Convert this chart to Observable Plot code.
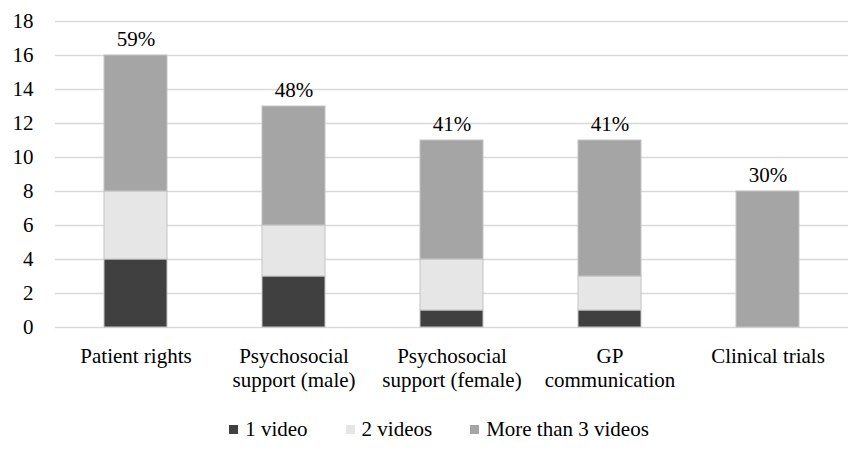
<!DOCTYPE html>
<html>
<head>
<meta charset="utf-8">
<script src="https://cdn.jsdelivr.net/npm/d3@7"></script>
<script src="https://cdn.jsdelivr.net/npm/@observablehq/plot@0.6"></script>
<style>
  html, body { margin: 0; padding: 0; background: #fff; }
  body { width: 848px; height: 455px; overflow: hidden; }
  * { font-family: 'Liberation Serif', serif !important; }
  svg text, svg tspan, svg g { font-family: 'Liberation Serif', serif !important; }
  #legend { display: flex; justify-content: center; align-items: center; gap: 38px; font-size: 21px; color: #000; margin-top: 17px; padding-left: 30px; }
  #legend .item { display: flex; align-items: center; }
  #legend .sw { width: 9px; height: 9px; margin-right: 7px; }
</style>
</head>
<body>
<div id="chart"></div>
<div id="legend"></div>
<script>
const categories = ["Patient rights", "Psychosocial support (male)", "Psychosocial support (female)", "GP communication", "Clinical trials"];
const categoryLines = ["Patient rights", "Psychosocial\nsupport (male)", "Psychosocial\nsupport (female)", "GP\ncommunication", "Clinical trials"];
const series = ["1 video", "2 videos", "More than 3 videos"];
const oneVideo = [4, 3, 1, 1, 0];
const twoVideos = [4, 3, 3, 2, 0];
const moreThan3 = [8, 7, 7, 8, 8];
const percentLabels = ["59%", "48%", "41%", "41%", "30%"];
const yTicks = [0, 2, 4, 6, 8, 10, 12, 14, 16, 18];
const colors = ["#404040", "#e6e6e6", "#a5a5a5"];

const seriesValues = [oneVideo, twoVideos, moreThan3];
const rows = [];
categories.forEach((c, i) => {
  series.forEach((s, j) => {
    rows.push({category: c, series: s, value: seriesValues[j][i]});
  });
});
const nonZero = rows.filter(d => d.value > 0);
const totals = categories.map((c, i) => ({category: c, total: oneVideo[i] + twoVideos[i] + moreThan3[i], label: percentLabels[i]}));
const lineOf = new Map(categories.map((c, i) => [c, categoryLines[i]]));
const serifFont = "'Liberation Serif', serif";

const chart = Plot.plot({
  width: 848,
  height: 400,
  marginTop: 21,
  marginBottom: 73,
  marginLeft: 55,
  marginRight: 0,
  style: {fontFamily: serifFont, fontSize: "21px", color: "#000", background: "#fff"},
  x: {domain: categories, paddingInner: 0.6, paddingOuter: 0.3, label: null},
  y: {domain: [0, 18], label: null},
  color: {domain: series, range: colors},
  marks: [
    Plot.gridY(yTicks, {stroke: "#d9d9d9", strokeOpacity: 1, strokeWidth: 1.5}),
    Plot.barY(nonZero, Plot.stackY({x: "category", y: "value", fill: "series", order: series, stroke: "#c4c4c4", strokeWidth: 1})),
    Plot.text(totals, {x: "category", y: "total", text: "label", dy: -16, fontSize: 21}),
    Plot.axisY(yTicks, {tickSize: 0, tickPadding: 22, fontSize: 21, label: null}),
    Plot.axisX({tickSize: 0, tickPadding: 19, fontSize: 21, lineHeight: 1.12, tickFormat: d => lineOf.get(d), label: null})
  ]
});
chart.querySelectorAll("text, tspan, g").forEach(t => t.style.setProperty("font-family", serifFont, "important"));
document.getElementById("chart").appendChild(chart);

const legend = document.getElementById("legend");
series.forEach((s, j) => {
  const item = document.createElement("div");
  item.className = "item";
  const sw = document.createElement("div");
  sw.className = "sw";
  sw.style.background = colors[j];
  const t = document.createElement("span");
  t.textContent = s;
  t.style.setProperty("font-family", serifFont, "important");
  item.appendChild(sw);
  item.appendChild(t);
  legend.appendChild(item);
});
</script>
</body>
</html>
